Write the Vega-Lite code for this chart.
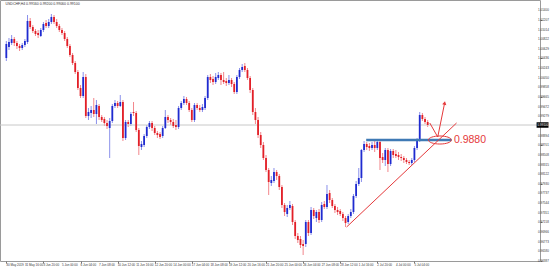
{
"$schema":"https://vega.github.io/schema/vega-lite/v6.json",
"width":540,"height":261,
"autosize":{"type":"none"},
"padding":{"left":0,"top":0,"right":13,"bottom":6},
"background":"white",
"config":{"view":{"stroke":"#9a9a9a","strokeWidth":1},"font":"Liberation Sans",
 "axis":{"labels":false,"grid":false,"domain":false,"tickSize":2,"tickColor":"#777777","title":null}},
"title":{"text":"USDCHF,H4  0.99160 0.99200 0.99060 0.99100","anchor":"start","fontSize":3.5,"fontWeight":"normal","color":"#333333","offset":-5,"dx":6},
"datasets":{
"c":[
{"i":0,"o":1.0044,"h":1.0078,"l":1.0038,"c":1.0072},
{"i":1,"o":1.0066,"h":1.0084,"l":1.0060,"c":1.0076},
{"i":2,"o":1.0074,"h":1.0090,"l":1.0070,"c":1.0082},
{"i":3,"o":1.0082,"h":1.0086,"l":1.0068,"c":1.0074},
{"i":4,"o":1.0074,"h":1.0078,"l":1.0062,"c":1.0068},
{"i":5,"o":1.0068,"h":1.0072,"l":1.0058,"c":1.0064},
{"i":6,"o":1.0064,"h":1.0074,"l":1.0060,"c":1.0070},
{"i":7,"o":1.0070,"h":1.0082,"l":1.0066,"c":1.0078},
{"i":8,"o":1.0076,"h":1.0130,"l":1.0072,"c":1.0118},
{"i":9,"o":1.0118,"h":1.0124,"l":1.0102,"c":1.0106},
{"i":10,"o":1.0106,"h":1.0110,"l":1.0094,"c":1.0098},
{"i":11,"o":1.0098,"h":1.0102,"l":1.0088,"c":1.0092},
{"i":12,"o":1.0094,"h":1.0100,"l":1.0084,"c":1.0090},
{"i":13,"o":1.0088,"h":1.0104,"l":1.0086,"c":1.0100},
{"i":14,"o":1.0100,"h":1.0116,"l":1.0096,"c":1.0112},
{"i":15,"o":1.0114,"h":1.0120,"l":1.0104,"c":1.0108},
{"i":16,"o":1.0108,"h":1.0122,"l":1.0104,"c":1.0116},
{"i":17,"o":1.0116,"h":1.0132,"l":1.0112,"c":1.0126},
{"i":18,"o":1.0126,"h":1.0130,"l":1.0112,"c":1.0116},
{"i":19,"o":1.0116,"h":1.0122,"l":1.0104,"c":1.0108},
{"i":20,"o":1.0108,"h":1.0112,"l":1.0096,"c":1.0100},
{"i":21,"o":1.0100,"h":1.0104,"l":1.0090,"c":1.0094},
{"i":22,"o":1.0094,"h":1.0098,"l":1.0078,"c":1.0082},
{"i":23,"o":1.0082,"h":1.0086,"l":1.0064,"c":1.0068},
{"i":24,"o":1.0068,"h":1.0072,"l":1.0046,"c":1.0050},
{"i":25,"o":1.0050,"h":1.0054,"l":1.0030,"c":1.0034},
{"i":26,"o":1.0034,"h":1.0038,"l":1.0012,"c":1.0016},
{"i":27,"o":1.0016,"h":1.0020,"l":0.9980,"c":0.9984},
{"i":28,"o":0.9984,"h":0.9990,"l":0.9964,"c":0.9968},
{"i":29,"o":0.9968,"h":1.0016,"l":0.9964,"c":1.0006},
{"i":30,"o":1.0006,"h":1.0012,"l":0.9924,"c":0.9928},
{"i":31,"o":0.9928,"h":0.9944,"l":0.9920,"c":0.9936},
{"i":32,"o":0.9934,"h":0.9948,"l":0.9924,"c":0.9940},
{"i":33,"o":0.9940,"h":0.9964,"l":0.9926,"c":0.9932},
{"i":34,"o":0.9932,"h":0.9960,"l":0.9912,"c":0.9950},
{"i":35,"o":0.9948,"h":0.9952,"l":0.9920,"c":0.9926},
{"i":36,"o":0.9926,"h":0.9930,"l":0.9916,"c":0.9920},
{"i":37,"o":0.9922,"h":0.9926,"l":0.9908,"c":0.9914},
{"i":38,"o":0.9914,"h":0.9920,"l":0.9902,"c":0.9908},
{"i":39,"o":0.9904,"h":0.9924,"l":0.9844,"c":0.9918},
{"i":40,"o":0.9918,"h":0.9952,"l":0.9914,"c":0.9948},
{"i":41,"o":0.9948,"h":0.9960,"l":0.9944,"c":0.9954},
{"i":42,"o":0.9954,"h":0.9958,"l":0.9944,"c":0.9948},
{"i":43,"o":0.9948,"h":0.9970,"l":0.9946,"c":0.9956},
{"i":44,"o":0.9956,"h":0.9960,"l":0.9878,"c":0.9884},
{"i":45,"o":0.9884,"h":0.9920,"l":0.9880,"c":0.9916},
{"i":46,"o":0.9916,"h":0.9920,"l":0.9906,"c":0.9912},
{"i":47,"o":0.9912,"h":0.9936,"l":0.9908,"c":0.9932},
{"i":48,"o":0.9936,"h":0.9956,"l":0.9928,"c":0.9934},
{"i":49,"o":0.9934,"h":0.9938,"l":0.9896,"c":0.9900},
{"i":50,"o":0.9900,"h":0.9904,"l":0.9850,"c":0.9868},
{"i":51,"o":0.9866,"h":0.9878,"l":0.9860,"c":0.9872},
{"i":52,"o":0.9870,"h":0.9892,"l":0.9866,"c":0.9888},
{"i":53,"o":0.9888,"h":0.9910,"l":0.9884,"c":0.9906},
{"i":54,"o":0.9906,"h":0.9918,"l":0.9902,"c":0.9914},
{"i":55,"o":0.9914,"h":0.9918,"l":0.9898,"c":0.9904},
{"i":56,"o":0.9904,"h":0.9908,"l":0.9890,"c":0.9894},
{"i":57,"o":0.9894,"h":0.9898,"l":0.9884,"c":0.9890},
{"i":58,"o":0.9892,"h":0.9896,"l":0.9882,"c":0.9886},
{"i":59,"o":0.9888,"h":0.9908,"l":0.9884,"c":0.9904},
{"i":60,"o":0.9904,"h":0.9940,"l":0.9902,"c":0.9926},
{"i":61,"o":0.9926,"h":0.9930,"l":0.9914,"c":0.9920},
{"i":62,"o":0.9920,"h":0.9924,"l":0.9910,"c":0.9916},
{"i":63,"o":0.9916,"h":0.9922,"l":0.9904,"c":0.9908},
{"i":64,"o":0.9910,"h":0.9920,"l":0.9900,"c":0.9906},
{"i":65,"o":0.9906,"h":0.9948,"l":0.9902,"c":0.9944},
{"i":66,"o":0.9944,"h":0.9958,"l":0.9940,"c":0.9954},
{"i":67,"o":0.9954,"h":0.9968,"l":0.9950,"c":0.9962},
{"i":68,"o":0.9962,"h":0.9966,"l":0.9950,"c":0.9954},
{"i":69,"o":0.9954,"h":0.9958,"l":0.9936,"c":0.9940},
{"i":70,"o":0.9940,"h":0.9944,"l":0.9916,"c":0.9920},
{"i":71,"o":0.9920,"h":0.9954,"l":0.9916,"c":0.9950},
{"i":72,"o":0.9950,"h":0.9954,"l":0.9940,"c":0.9944},
{"i":73,"o":0.9944,"h":0.9950,"l":0.9936,"c":0.9940},
{"i":74,"o":0.9940,"h":0.9952,"l":0.9936,"c":0.9946},
{"i":75,"o":0.9944,"h":0.9968,"l":0.9940,"c":0.9964},
{"i":76,"o":0.9964,"h":1.0010,"l":0.9960,"c":1.0006},
{"i":77,"o":1.0006,"h":1.0012,"l":0.9994,"c":1.0000},
{"i":78,"o":1.0002,"h":1.0008,"l":0.9990,"c":0.9996},
{"i":79,"o":0.9996,"h":1.0014,"l":0.9992,"c":1.0006},
{"i":80,"o":1.0004,"h":1.0016,"l":1.0000,"c":1.0010},
{"i":81,"o":1.0010,"h":1.0014,"l":0.9990,"c":1.0000},
{"i":82,"o":1.0000,"h":1.0016,"l":0.9992,"c":0.9996},
{"i":83,"o":0.9998,"h":1.0004,"l":0.9988,"c":0.9994},
{"i":84,"o":0.9994,"h":1.0010,"l":0.9990,"c":1.0000},
{"i":85,"o":1.0000,"h":1.0004,"l":0.9986,"c":0.9992},
{"i":86,"o":0.9992,"h":0.9996,"l":0.9972,"c":0.9976},
{"i":87,"o":0.9976,"h":1.0010,"l":0.9972,"c":1.0006},
{"i":88,"o":1.0006,"h":1.0024,"l":1.0002,"c":1.0020},
{"i":89,"o":1.0020,"h":1.0032,"l":1.0016,"c":1.0026},
{"i":90,"o":1.0028,"h":1.0034,"l":1.0016,"c":1.0020},
{"i":91,"o":1.0020,"h":1.0024,"l":1.0000,"c":1.0004},
{"i":92,"o":1.0004,"h":1.0008,"l":0.9974,"c":0.9980},
{"i":93,"o":0.9980,"h":0.9984,"l":0.9930,"c":0.9936},
{"i":94,"o":0.9936,"h":0.9944,"l":0.9912,"c":0.9920},
{"i":95,"o":0.9920,"h":0.9926,"l":0.9884,"c":0.9890},
{"i":96,"o":0.9890,"h":0.9896,"l":0.9864,"c":0.9870},
{"i":97,"o":0.9870,"h":0.9876,"l":0.9840,"c":0.9844},
{"i":98,"o":0.9844,"h":0.9850,"l":0.9816,"c":0.9820},
{"i":99,"o":0.9820,"h":0.9824,"l":0.9770,"c":0.9796},
{"i":100,"o":0.9794,"h":0.9808,"l":0.9788,"c":0.9800},
{"i":101,"o":0.9798,"h":0.9824,"l":0.9794,"c":0.9816},
{"i":102,"o":0.9816,"h":0.9820,"l":0.9800,"c":0.9808},
{"i":103,"o":0.9808,"h":0.9812,"l":0.9780,"c":0.9786},
{"i":104,"o":0.9786,"h":0.9790,"l":0.9744,"c":0.9750},
{"i":105,"o":0.9750,"h":0.9754,"l":0.9728,"c":0.9736},
{"i":106,"o":0.9732,"h":0.9750,"l":0.9726,"c":0.9744},
{"i":107,"o":0.9744,"h":0.9758,"l":0.9740,"c":0.9750},
{"i":108,"o":0.9748,"h":0.9752,"l":0.9710,"c":0.9716},
{"i":109,"o":0.9716,"h":0.9720,"l":0.9682,"c":0.9688},
{"i":110,"o":0.9688,"h":0.9694,"l":0.9674,"c":0.9680},
{"i":111,"o":0.9682,"h":0.9688,"l":0.9664,"c":0.9670},
{"i":112,"o":0.9672,"h":0.9680,"l":0.9650,"c":0.9668},
{"i":113,"o":0.9672,"h":0.9720,"l":0.9666,"c":0.9716},
{"i":114,"o":0.9716,"h":0.9720,"l":0.9688,"c":0.9694},
{"i":115,"o":0.9694,"h":0.9746,"l":0.9690,"c":0.9740},
{"i":116,"o":0.9740,"h":0.9744,"l":0.9722,"c":0.9728},
{"i":117,"o":0.9724,"h":0.9740,"l":0.9716,"c":0.9736},
{"i":118,"o":0.9736,"h":0.9742,"l":0.9714,"c":0.9720},
{"i":119,"o":0.9720,"h":0.9756,"l":0.9716,"c":0.9750},
{"i":120,"o":0.9752,"h":0.9758,"l":0.9742,"c":0.9746},
{"i":121,"o":0.9746,"h":0.9790,"l":0.9742,"c":0.9772},
{"i":122,"o":0.9774,"h":0.9780,"l":0.9754,"c":0.9760},
{"i":123,"o":0.9760,"h":0.9764,"l":0.9744,"c":0.9748},
{"i":124,"o":0.9748,"h":0.9752,"l":0.9734,"c":0.9740},
{"i":125,"o":0.9740,"h":0.9746,"l":0.9730,"c":0.9736},
{"i":126,"o":0.9738,"h":0.9742,"l":0.9728,"c":0.9732},
{"i":127,"o":0.9732,"h":0.9736,"l":0.9718,"c":0.9724},
{"i":128,"o":0.9724,"h":0.9728,"l":0.9706,"c":0.9714},
{"i":129,"o":0.9716,"h":0.9732,"l":0.9712,"c":0.9728},
{"i":130,"o":0.9728,"h":0.9742,"l":0.9724,"c":0.9736},
{"i":131,"o":0.9736,"h":0.9772,"l":0.9732,"c":0.9768},
{"i":132,"o":0.9768,"h":0.9798,"l":0.9764,"c":0.9792},
{"i":133,"o":0.9792,"h":0.9824,"l":0.9788,"c":0.9804},
{"i":134,"o":0.9804,"h":0.9862,"l":0.9796,"c":0.9860},
{"i":135,"o":0.9860,"h":0.9878,"l":0.9856,"c":0.9872},
{"i":136,"o":0.9872,"h":0.9876,"l":0.9860,"c":0.9866},
{"i":137,"o":0.9868,"h":0.9874,"l":0.9858,"c":0.9864},
{"i":138,"o":0.9864,"h":0.9876,"l":0.9860,"c":0.9870},
{"i":139,"o":0.9870,"h":0.9878,"l":0.9856,"c":0.9864},
{"i":140,"o":0.9864,"h":0.9882,"l":0.9860,"c":0.9876},
{"i":141,"o":0.9876,"h":0.9880,"l":0.9820,"c":0.9844},
{"i":142,"o":0.9846,"h":0.9854,"l":0.9834,"c":0.9840},
{"i":143,"o":0.9840,"h":0.9864,"l":0.9828,"c":0.9860},
{"i":144,"o":0.9860,"h":0.9864,"l":0.9816,"c":0.9832},
{"i":145,"o":0.9832,"h":0.9862,"l":0.9828,"c":0.9858},
{"i":146,"o":0.9858,"h":0.9862,"l":0.9844,"c":0.9850},
{"i":147,"o":0.9852,"h":0.9860,"l":0.9844,"c":0.9848},
{"i":148,"o":0.9850,"h":0.9856,"l":0.9840,"c":0.9846},
{"i":149,"o":0.9846,"h":0.9852,"l":0.9838,"c":0.9844},
{"i":150,"o":0.9844,"h":0.9848,"l":0.9834,"c":0.9840},
{"i":151,"o":0.9840,"h":0.9844,"l":0.9832,"c":0.9836},
{"i":152,"o":0.9836,"h":0.9840,"l":0.9830,"c":0.9834},
{"i":153,"o":0.9834,"h":0.9844,"l":0.9830,"c":0.9840},
{"i":154,"o":0.9840,"h":0.9868,"l":0.9836,"c":0.9864},
{"i":155,"o":0.9864,"h":0.9884,"l":0.9860,"c":0.9880},
{"i":156,"o":0.9880,"h":0.9936,"l":0.9876,"c":0.9930},
{"i":157,"o":0.9930,"h":0.9934,"l":0.9918,"c":0.9922},
{"i":158,"o":0.9922,"h":0.9926,"l":0.9912,"c":0.9916},
{"i":159,"o":0.9916,"h":0.9920,"l":0.9906,"c":0.9910}
],
"xl":[
{"i":0,"t":"30 May 2019"},{"i":7,"t":"31 May 16:00"},{"i":14,"t":"3 Jun 20:00"},{"i":21,"t":"5 Jun 00:00"},{"i":28,"t":"6 Jun 04:00"},{"i":35,"t":"7 Jun 08:00"},{"i":42,"t":"10 Jun 12:00"},{"i":49,"t":"11 Jun 16:00"},{"i":56,"t":"12 Jun 20:00"},{"i":63,"t":"14 Jun 00:00"},{"i":70,"t":"17 Jun 04:00"},{"i":77,"t":"18 Jun 08:00"},{"i":84,"t":"19 Jun 12:00"},{"i":91,"t":"20 Jun 16:00"},{"i":98,"t":"21 Jun 20:00"},{"i":105,"t":"25 Jun 00:00"},{"i":112,"t":"26 Jun 04:00"},{"i":119,"t":"27 Jun 08:00"},{"i":126,"t":"28 Jun 12:00"},{"i":133,"t":"1 Jul 16:00"},{"i":140,"t":"2 Jul 20:00"},{"i":147,"t":"4 Jul 00:00"},{"i":154,"t":"5 Jul 04:00"}
],
"yl":[
{"p":1.014},{"p":1.01207},{"p":1.01014},{"p":1.00822},{"p":1.00629},{"p":1.00436},{"p":1.00243},{"p":1.0005},{"p":0.99858},{"p":0.99665},{"p":0.99472},{"p":0.99279},{"p":0.98894},{"p":0.98701},{"p":0.98508},{"p":0.98315},{"p":0.98122},{"p":0.9793},{"p":0.97737},{"p":0.97544},{"p":0.97351},{"p":0.97158},{"p":0.96966},{"p":0.96773},{"p":0.9658},{"p":0.96387}
],
"bid":[{"p":0.9910,"a":200.1,"b":204.6,"hi":0.99155,"lo":0.99045,"t":"0.99100"}],
"level":[{"a":135.8,"b":168.0,"p":0.9880,"t":"0.9880","tx":168.9}],
"trend":[{"i":128.4,"p":0.9706},{"i":169.9,"p":0.9914}],
"arrow":[{"k":0,"i":159.8,"p":0.9914},{"k":1,"i":162.8,"p":0.9886},{"k":2,"i":165.4,"p":0.9954}],
"head":[{"i":165.4,"p":0.9954}],
"ring":[{"i":163.6,"p":0.9880}]
},
"layer":[
{"data":{"name":"c"},"mark":{"type":"rule","strokeWidth":1,"opacity":0.55},
 "encoding":{
  "x":{"field":"i","type":"quantitative","title":null,
   "scale":{"domain":[-0.5,199.5],"nice":false,"zero":false},
   "axis":{"values":[0,7,14,21,28,35,42,49,56,63,70,77,84,91,98,105,112,119,126,133,140,147,154]}},
  "y":{"field":"l","type":"quantitative","title":null,
   "scale":{"domain":[0.9638,1.016],"nice":false,"zero":false},
   "axis":{"orient":"right","values":[1.014,1.01207,1.01014,1.00822,1.00629,1.00436,1.00243,1.0005,0.99858,0.99665,0.99472,0.99279,0.98894,0.98701,0.98508,0.98315,0.98122,0.9793,0.97737,0.97544,0.97351,0.97158,0.96966,0.96773,0.9658,0.96387]}},
  "y2":{"field":"h"},
  "color":{"condition":{"test":"datum.c >= datum.o","value":"#2a35d8"},"value":"#e8232b"}}},
{"data":{"name":"bid"},"mark":{"type":"rule","color":"#c8c8c8","strokeWidth":1},
 "encoding":{"y":{"field":"p","type":"quantitative","title":null}}},
{"data":{"name":"c"},"mark":{"type":"bar","size":1.8},
 "encoding":{
  "x":{"field":"i","type":"quantitative","title":null},
  "y":{"field":"o","type":"quantitative","title":null},
  "y2":{"field":"c"},
  "color":{"condition":{"test":"datum.c >= datum.o","value":"#1f2bd0"},"value":"#e21f27"}}},
{"data":{"name":"level"},"mark":{"type":"rule","color":"#3f7ab5","strokeWidth":2.6},
 "encoding":{"x":{"field":"a","type":"quantitative","title":null},"x2":{"field":"b"},"y":{"field":"p","type":"quantitative","title":null}}},
{"data":{"name":"trend"},"mark":{"type":"line","color":"#e5393b","strokeWidth":1},
 "encoding":{"x":{"field":"i","type":"quantitative","title":null},"y":{"field":"p","type":"quantitative","title":null}}},
{"data":{"name":"arrow"},"mark":{"type":"line","color":"#e5393b","strokeWidth":1},
 "encoding":{"x":{"field":"i","type":"quantitative","title":null},"y":{"field":"p","type":"quantitative","title":null},"order":{"field":"k"}}},
{"data":{"name":"head"},"mark":{"type":"point","shape":"triangle-up","filled":true,"color":"#e5393b","size":18,"angle":12,"opacity":1},
 "encoding":{"x":{"field":"i","type":"quantitative","title":null},"y":{"field":"p","type":"quantitative","title":null}}},
{"data":{"name":"ring"},"mark":{"type":"point","shape":"M-1,0 C-1,-0.193 -0.552,-0.35 0,-0.35 C0.552,-0.35 1,-0.193 1,0 C1,0.193 0.552,0.35 0,0.35 C-0.552,0.35 -1,0.193 -1,0 Z","filled":false,"color":"#e5393b","strokeWidth":1,"size":529,"opacity":1},
 "encoding":{"x":{"field":"i","type":"quantitative","title":null},"y":{"field":"p","type":"quantitative","title":null}}},
{"data":{"name":"level"},"mark":{"type":"text","color":"#e5393b","fontSize":10.5,"align":"left","baseline":"middle","font":"Liberation Sans"},
 "encoding":{"x":{"field":"tx","type":"quantitative","title":null},"y":{"field":"p","type":"quantitative","title":null},"text":{"field":"t"}}},
{"data":{"name":"xl"},"mark":{"type":"text","color":"#333333","fontSize":3,"align":"left","baseline":"top","dy":3,"clip":false},
 "encoding":{"x":{"field":"i","type":"quantitative","title":null},"y":{"datum":0.9638,"type":"quantitative"},"text":{"field":"t"}}},
{"data":{"name":"yl"},"mark":{"type":"text","color":"#333333","fontSize":3,"align":"left","baseline":"middle","dx":3,"clip":false},
 "encoding":{"x":{"datum":199.5,"type":"quantitative"},"y":{"field":"p","type":"quantitative","title":null},"text":{"field":"p","format":".5f"}}},
{"data":{"name":"bid"},"mark":{"type":"rect","color":"#000000","clip":false},
 "encoding":{"x":{"field":"a","type":"quantitative","title":null},"x2":{"field":"b"},"y":{"field":"lo","type":"quantitative","title":null},"y2":{"field":"hi"}}},
{"data":{"name":"bid"},"mark":{"type":"text","color":"#ffffff","fontSize":3,"align":"left","baseline":"middle","dx":1,"clip":false},
 "encoding":{"x":{"field":"a","type":"quantitative","title":null},"y":{"field":"p","type":"quantitative","title":null},"text":{"field":"t"}}}
]
}
